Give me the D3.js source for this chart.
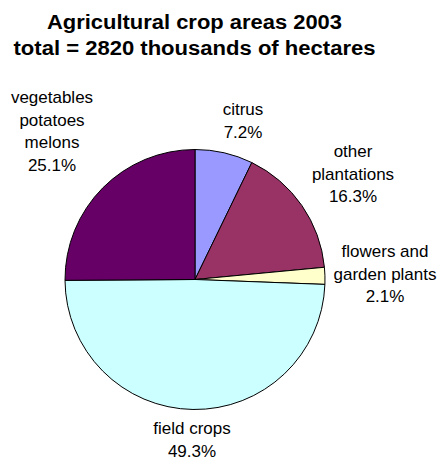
<!DOCTYPE html>
<html>
<head>
<meta charset="utf-8">
<script src="https://cdn.jsdelivr.net/npm/d3@7"></script>
<style>
  html, body { margin: 0; padding: 0; background: #fff; }
  svg { display: block; font-family: Arial, "Liberation Sans", sans-serif; }
</style>
</head>
<body>
<svg id="chart" width="441" height="460"></svg>
<script>
// Crop areas, share of total (%), clockwise from 12 o'clock
const categories = ["citrus", "other plantations", "flowers and garden plants", "field crops", "vegetables potatoes melons"];
const shares = [7.2, 16.3, 2.1, 49.3, 25.1];
const colors = ["#9999FF", "#993366", "#FFFFCC", "#CCFFFF", "#660066"];
// Label text split into lines, last line is the percentage
const labelLines = [
  ["citrus"],
  ["other", "plantations"],
  ["flowers and", "garden plants"],
  ["field crops"],
  ["vegetables", "potatoes", "melons"]
];
// Label anchor positions (centre x, first baseline y)
const labelPos = [[243, 115], [353, 157], [385, 257], [192, 434], [52, 103]];
const titleLines = ["Agricultural crop areas 2003", "total = 2820 thousands of hectares"];
const titleWidths = [295, 362];

const svg = d3.select("#chart");
const cx = 195, cy = 279.5, r = 130;

// Two-line bold title
svg.append("g")
  .selectAll("text")
  .data(titleLines)
  .join("text")
  .attr("x", 194.5)
  .attr("y", (d, i) => 29 + i * 26)
  .attr("text-anchor", "middle")
  .attr("font-weight", "bold")
  .attr("font-size", 20)
  .attr("textLength", (d, i) => titleWidths[i])
  .attr("lengthAdjust", "spacingAndGlyphs")
  .attr("fill", "#000")
  .text(d => d);

const pie = d3.pie().sort(null).value(d => d)
  .startAngle(0).endAngle(2 * Math.PI);
const arc = d3.arc().innerRadius(0).outerRadius(r);

svg.append("g")
  .attr("transform", `translate(${cx},${cy})`)
  .selectAll("path")
  .data(pie(shares))
  .join("path")
  .attr("d", arc)
  .attr("fill", (d, i) => colors[i])
  .attr("stroke", "#000")
  .attr("stroke-width", 1);

const labels = svg.append("g")
  .selectAll("text")
  .data(categories)
  .join("text")
  .attr("text-anchor", "middle")
  .attr("font-size", 17)
  .attr("fill", "#000");

labels.each(function(d, i) {
  const lines = labelLines[i].concat([d3.format(".1f")(shares[i]) + "%"]);
  d3.select(this).selectAll("tspan")
    .data(lines)
    .join("tspan")
    .attr("x", labelPos[i][0])
    .attr("y", (l, j) => labelPos[i][1] + j * 22.5)
    .text(l => l);
});
</script>
</body>
</html>
